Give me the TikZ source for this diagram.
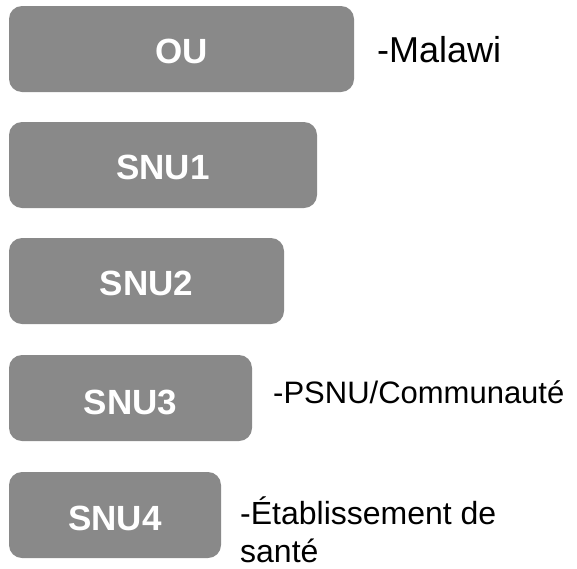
\documentclass[tikz,border=0pt]{standalone}
\usepackage{fontspec}
\setmainfont{Liberation Sans}
\definecolor{boxgray}{HTML}{898989}
\begin{document}
\begin{tikzpicture}[x=1pt,y=-1pt,
  levelbox/.style={fill=boxgray, draw=none, rounded corners=13pt,
    minimum height=86pt, inner sep=0pt},
  levellabel/.style={anchor=base, inner sep=0pt, text=white,
    font=\fontsize{35}{42}\selectfont\bfseries},
  note/.style={anchor=base west, inner sep=0pt, text=black},
]
\useasboundingbox (0,0) rectangle (577,568);

% organisational level boxes
\node[levelbox, minimum width=345pt] (ou)   at (181.5,49) {};
\node[levelbox, minimum width=308pt] (snu1) at (163,165) {};
\node[levelbox, minimum width=275pt] (snu2) at (146.5,281) {};
\node[levelbox, minimum width=243pt] (snu3) at (130.5,398) {};
\node[levelbox, minimum width=212pt] (snu4) at (115,515) {};

% box titles
\node[levellabel] (ouT)   at (181.5,63) {OU};
\node[levellabel] (snu1T) at (163,179) {SNU1};
\node[levellabel] (snu2T) at (146.5,295) {SNU2};
\node[levellabel] (snu3T) at (130.5,414) {SNU3};
\node[levellabel] (snu4T) at (115,530) {SNU4};

% descriptions
\node[note, font=\fontsize{36}{42}\selectfont] (malawi) at (377,62.5) {-Malawi};
\node[note, font=\fontsize{31}{37}\selectfont] (psnu) at (273,403) {-PSNU/Communauté};
\node[note, font=\fontsize{32}{38}\selectfont] (etab1) at (240,524.5) {-Établissement de};
\node[note, font=\fontsize{32}{38}\selectfont] (etab2) at (240,562) {santé};
\end{tikzpicture}
\end{document}
